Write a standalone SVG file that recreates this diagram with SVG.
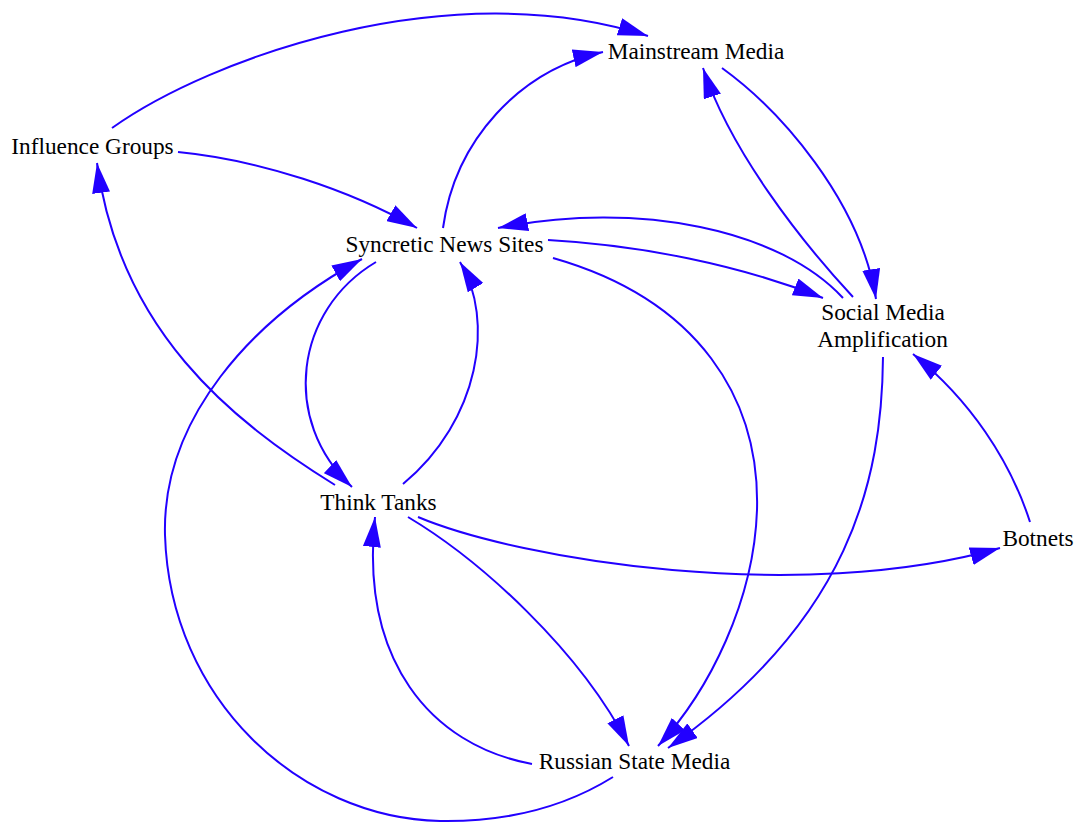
<svg xmlns="http://www.w3.org/2000/svg" width="1076" height="823" viewBox="0 0 1076 823">
<style>
.e{fill:none;stroke:#2200ff;stroke-width:2;marker-end:url(#ah)}
.t{font-family:"Liberation Serif","Times New Roman",serif;font-size:23.3px;fill:#000;text-anchor:middle}
</style>
<defs>
<marker id="ah" markerUnits="userSpaceOnUse" markerWidth="30" markerHeight="18" refX="30" refY="9" orient="auto" viewBox="0 0 30 18">
<path d="M0,0 L30,9 L0,18 Z" fill="#2200ff"/>
</marker>
</defs>
<rect width="1076" height="823" fill="#fff"/>
<g id="connectors">
<path class="e" d="M112,128 C210,58 450,-28 648,36"/>
<path class="e" d="M178,152 C260,160 350,190 417,228"/>
<path class="e" d="M443,228 C455,140 520,70 603,52"/>
<path class="e" d="M722,68 C780,110 860,200 876,299"/>
<path class="e" d="M853,297 C800,240 730,150 703,68"/>
<path class="e" d="M843,298 C780,230 640,200 498,228"/>
<path class="e" d="M548,240 C640,245 740,265 823,298"/>
<path class="e" d="M553,258 C700,300 760,400 757,510 C754,600 710,690 658,746"/>
<path class="e" d="M883,357 C882,480 850,620 668,748"/>
<path class="e" d="M376,262 C295,310 280,420 352,487"/>
<path class="e" d="M403,484 C480,420 495,320 460,262"/>
<path class="e" d="M335,485 C230,420 120,330 97,163"/>
<path class="e" d="M613,777 C560,810 500,822 440,821 C300,818 170,700 165,535 C162,420 250,320 362,259"/>
<path class="e" d="M532,764 C430,745 360,660 375,517"/>
<path class="e" d="M408,517 C480,560 580,650 629,746"/>
<path class="e" d="M418,517 C520,560 800,605 1000,548"/>
<path class="e" d="M1030,522 C1010,460 970,400 913,354"/>
</g>
<g id="mainstream-media"><text class="t" x="696" y="59">Mainstream Media</text></g>
<g id="influence-groups"><text class="t" x="92.5" y="154">Influence Groups</text></g>
<g id="syncretic-news-sites"><text class="t" x="444.5" y="252">Syncretic News Sites</text></g>
<g id="social-media-amplification"><text class="t" x="883" y="320">Social Media</text><text class="t" x="882.5" y="347">Amplification</text></g>
<g id="think-tanks"><text class="t" x="378.5" y="510">Think Tanks</text></g>
<g id="botnets"><text class="t" x="1038" y="546">Botnets</text></g>
<g id="russian-state-media"><text class="t" x="634.5" y="769">Russian State Media</text></g>
</svg>
